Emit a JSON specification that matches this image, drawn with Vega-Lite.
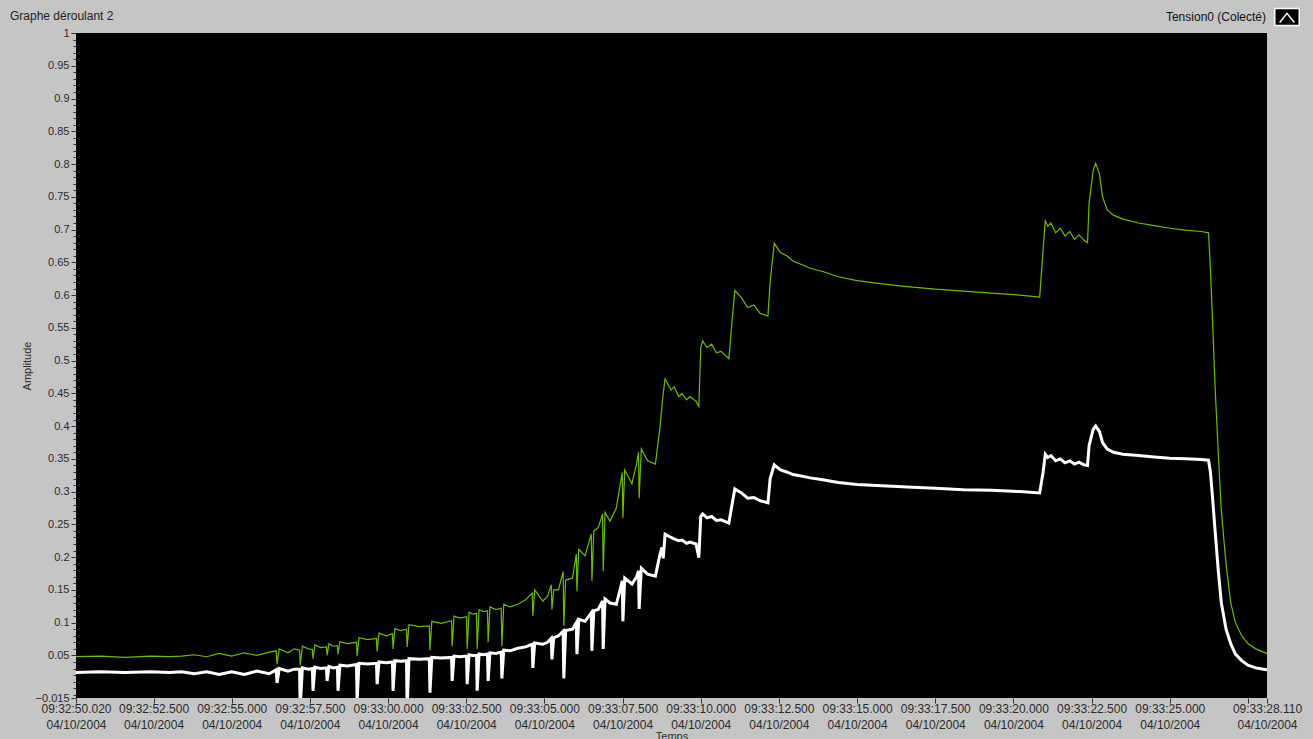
{
  "$schema": "https://vega.github.io/schema/vega-lite/v6.json",
  "width": 1191,
  "height": 665,
  "autosize": {"type": "none"},
  "padding": {"left": 76, "top": 33, "right": 46, "bottom": 41},
  "background": "#c5c5c5",
  "title": {"text": "Graphe déroulant 2", "anchor": "start", "frame": "group", "dx": -66, "dy": 33, "offset": 12, "fontSize": 12, "fontWeight": "normal", "color": "#222222", "font": "Liberation Sans"},
  "config": {"view": {"fill": "#000000", "stroke": null}, "font": "Liberation Sans"},
  "data": {
    "format": {"parse": {"t": "utc:'%Y-%m-%dT%H:%M:%S.%L'"}},
    "values": [
      {"t": "2004-10-04T09:32:50.020", "w": 0.024, "g": 0.048},
      {"t": "2004-10-04T09:32:50.800", "w": 0.025, "g": 0.049},
      {"t": "2004-10-04T09:32:51.600", "w": 0.024, "g": 0.047},
      {"t": "2004-10-04T09:32:52.400", "w": 0.025, "g": 0.049},
      {"t": "2004-10-04T09:32:53.000", "w": 0.024, "g": 0.048},
      {"t": "2004-10-04T09:32:53.400", "w": 0.025, "g": 0.049},
      {"t": "2004-10-04T09:32:53.800", "w": 0.022, "g": 0.051},
      {"t": "2004-10-04T09:32:54.200", "w": 0.025, "g": 0.048},
      {"t": "2004-10-04T09:32:54.600", "w": 0.021, "g": 0.053},
      {"t": "2004-10-04T09:32:55.000", "w": 0.025, "g": 0.049},
      {"t": "2004-10-04T09:32:55.400", "w": 0.021, "g": 0.054},
      {"t": "2004-10-04T09:32:55.800", "w": 0.026, "g": 0.050},
      {"t": "2004-10-04T09:32:56.200", "w": 0.022, "g": 0.055},
      {"t": "2004-10-04T09:32:56.420", "w": 0.028, "g": 0.057},
      {"t": "2004-10-04T09:32:56.450", "w": 0.008, "g": 0.037},
      {"t": "2004-10-04T09:32:56.520", "w": 0.030, "g": 0.060},
      {"t": "2004-10-04T09:32:56.800", "w": 0.026, "g": 0.054},
      {"t": "2004-10-04T09:32:57.000", "w": 0.029, "g": 0.060},
      {"t": "2004-10-04T09:32:57.170", "w": 0.029, "g": 0.058},
      {"t": "2004-10-04T09:32:57.190", "w": -0.030, "g": 0.035},
      {"t": "2004-10-04T09:32:57.260", "w": 0.031, "g": 0.064},
      {"t": "2004-10-04T09:32:57.450", "w": 0.029, "g": 0.060},
      {"t": "2004-10-04T09:32:57.580", "w": 0.030, "g": 0.059},
      {"t": "2004-10-04T09:32:57.600", "w": -0.004, "g": 0.045},
      {"t": "2004-10-04T09:32:57.660", "w": 0.032, "g": 0.066},
      {"t": "2004-10-04T09:32:57.850", "w": 0.030, "g": 0.062},
      {"t": "2004-10-04T09:32:58.030", "w": 0.031, "g": 0.063},
      {"t": "2004-10-04T09:32:58.050", "w": 0.011, "g": 0.050},
      {"t": "2004-10-04T09:32:58.110", "w": 0.033, "g": 0.068},
      {"t": "2004-10-04T09:32:58.250", "w": 0.031, "g": 0.064},
      {"t": "2004-10-04T09:32:58.380", "w": 0.032, "g": 0.065},
      {"t": "2004-10-04T09:32:58.400", "w": -0.004, "g": 0.052},
      {"t": "2004-10-04T09:32:58.460", "w": 0.035, "g": 0.071},
      {"t": "2004-10-04T09:32:58.700", "w": 0.034, "g": 0.068},
      {"t": "2004-10-04T09:32:58.990", "w": 0.036, "g": 0.070},
      {"t": "2004-10-04T09:32:59.010", "w": -0.020, "g": 0.049},
      {"t": "2004-10-04T09:32:59.070", "w": 0.038, "g": 0.077},
      {"t": "2004-10-04T09:32:59.350", "w": 0.037, "g": 0.074},
      {"t": "2004-10-04T09:32:59.630", "w": 0.038, "g": 0.076},
      {"t": "2004-10-04T09:32:59.650", "w": 0.006, "g": 0.056},
      {"t": "2004-10-04T09:32:59.710", "w": 0.040, "g": 0.084},
      {"t": "2004-10-04T09:32:59.950", "w": 0.039, "g": 0.080},
      {"t": "2004-10-04T09:33:00.140", "w": 0.040, "g": 0.083},
      {"t": "2004-10-04T09:33:00.160", "w": -0.004, "g": 0.060},
      {"t": "2004-10-04T09:33:00.220", "w": 0.042, "g": 0.091},
      {"t": "2004-10-04T09:33:00.400", "w": 0.041, "g": 0.088},
      {"t": "2004-10-04T09:33:00.590", "w": 0.042, "g": 0.090},
      {"t": "2004-10-04T09:33:00.610", "w": -0.030, "g": 0.063},
      {"t": "2004-10-04T09:33:00.670", "w": 0.045, "g": 0.097},
      {"t": "2004-10-04T09:33:01.000", "w": 0.044, "g": 0.094},
      {"t": "2004-10-04T09:33:01.320", "w": 0.045, "g": 0.095},
      {"t": "2004-10-04T09:33:01.340", "w": -0.007, "g": 0.058},
      {"t": "2004-10-04T09:33:01.400", "w": 0.047, "g": 0.102},
      {"t": "2004-10-04T09:33:01.700", "w": 0.046, "g": 0.099},
      {"t": "2004-10-04T09:33:02.030", "w": 0.047, "g": 0.103},
      {"t": "2004-10-04T09:33:02.050", "w": 0.011, "g": 0.064},
      {"t": "2004-10-04T09:33:02.110", "w": 0.049, "g": 0.110},
      {"t": "2004-10-04T09:33:02.300", "w": 0.048, "g": 0.107},
      {"t": "2004-10-04T09:33:02.510", "w": 0.049, "g": 0.109},
      {"t": "2004-10-04T09:33:02.530", "w": 0.006, "g": 0.060},
      {"t": "2004-10-04T09:33:02.590", "w": 0.051, "g": 0.116},
      {"t": "2004-10-04T09:33:02.700", "w": 0.050, "g": 0.113},
      {"t": "2004-10-04T09:33:02.830", "w": 0.050, "g": 0.114},
      {"t": "2004-10-04T09:33:02.850", "w": -0.004, "g": 0.060},
      {"t": "2004-10-04T09:33:02.910", "w": 0.052, "g": 0.120},
      {"t": "2004-10-04T09:33:03.050", "w": 0.051, "g": 0.117},
      {"t": "2004-10-04T09:33:03.180", "w": 0.052, "g": 0.118},
      {"t": "2004-10-04T09:33:03.200", "w": 0.011, "g": 0.070},
      {"t": "2004-10-04T09:33:03.260", "w": 0.054, "g": 0.124},
      {"t": "2004-10-04T09:33:03.450", "w": 0.053, "g": 0.120},
      {"t": "2004-10-04T09:33:03.620", "w": 0.055, "g": 0.122},
      {"t": "2004-10-04T09:33:03.640", "w": 0.015, "g": 0.064},
      {"t": "2004-10-04T09:33:03.700", "w": 0.058, "g": 0.128},
      {"t": "2004-10-04T09:33:03.900", "w": 0.057, "g": 0.124},
      {"t": "2004-10-04T09:33:04.150", "w": 0.061, "g": 0.128},
      {"t": "2004-10-04T09:33:04.400", "w": 0.063, "g": 0.135},
      {"t": "2004-10-04T09:33:04.610", "w": 0.067, "g": 0.145},
      {"t": "2004-10-04T09:33:04.630", "w": 0.031, "g": 0.110},
      {"t": "2004-10-04T09:33:04.690", "w": 0.069, "g": 0.150},
      {"t": "2004-10-04T09:33:04.950", "w": 0.067, "g": 0.133},
      {"t": "2004-10-04T09:33:05.100", "w": 0.070, "g": 0.140},
      {"t": "2004-10-04T09:33:05.220", "w": 0.076, "g": 0.158},
      {"t": "2004-10-04T09:33:05.240", "w": 0.044, "g": 0.120},
      {"t": "2004-10-04T09:33:05.300", "w": 0.077, "g": 0.150},
      {"t": "2004-10-04T09:33:05.450", "w": 0.080, "g": 0.150},
      {"t": "2004-10-04T09:33:05.600", "w": 0.087, "g": 0.178},
      {"t": "2004-10-04T09:33:05.620", "w": 0.015, "g": 0.095},
      {"t": "2004-10-04T09:33:05.680", "w": 0.088, "g": 0.165},
      {"t": "2004-10-04T09:33:05.900", "w": 0.090, "g": 0.168},
      {"t": "2004-10-04T09:33:06.020", "w": 0.100, "g": 0.205},
      {"t": "2004-10-04T09:33:06.040", "w": 0.052, "g": 0.148},
      {"t": "2004-10-04T09:33:06.100", "w": 0.105, "g": 0.212},
      {"t": "2004-10-04T09:33:06.300", "w": 0.102, "g": 0.202},
      {"t": "2004-10-04T09:33:06.500", "w": 0.115, "g": 0.235},
      {"t": "2004-10-04T09:33:06.520", "w": 0.057, "g": 0.164},
      {"t": "2004-10-04T09:33:06.580", "w": 0.118, "g": 0.240},
      {"t": "2004-10-04T09:33:06.720", "w": 0.120, "g": 0.245},
      {"t": "2004-10-04T09:33:06.860", "w": 0.133, "g": 0.266},
      {"t": "2004-10-04T09:33:06.880", "w": 0.060, "g": 0.179},
      {"t": "2004-10-04T09:33:06.940", "w": 0.136, "g": 0.268},
      {"t": "2004-10-04T09:33:07.100", "w": 0.130, "g": 0.255},
      {"t": "2004-10-04T09:33:07.300", "w": 0.128, "g": 0.275},
      {"t": "2004-10-04T09:33:07.420", "w": 0.150, "g": 0.310},
      {"t": "2004-10-04T09:33:07.490", "w": 0.164, "g": 0.329},
      {"t": "2004-10-04T09:33:07.510", "w": 0.102, "g": 0.260},
      {"t": "2004-10-04T09:33:07.570", "w": 0.168, "g": 0.333},
      {"t": "2004-10-04T09:33:07.800", "w": 0.159, "g": 0.312},
      {"t": "2004-10-04T09:33:07.950", "w": 0.170, "g": 0.343},
      {"t": "2004-10-04T09:33:08.010", "w": 0.179, "g": 0.360},
      {"t": "2004-10-04T09:33:08.030", "w": 0.121, "g": 0.290},
      {"t": "2004-10-04T09:33:08.100", "w": 0.183, "g": 0.365},
      {"t": "2004-10-04T09:33:08.300", "w": 0.174, "g": 0.347},
      {"t": "2004-10-04T09:33:08.550", "w": 0.171, "g": 0.342},
      {"t": "2004-10-04T09:33:08.700", "w": 0.205, "g": 0.400},
      {"t": "2004-10-04T09:33:08.760", "w": 0.215, "g": 0.430},
      {"t": "2004-10-04T09:33:08.800", "w": 0.198, "g": 0.450},
      {"t": "2004-10-04T09:33:08.860", "w": 0.235, "g": 0.472},
      {"t": "2004-10-04T09:33:09.050", "w": 0.230, "g": 0.455},
      {"t": "2004-10-04T09:33:09.150", "w": 0.228, "g": 0.460},
      {"t": "2004-10-04T09:33:09.300", "w": 0.225, "g": 0.445},
      {"t": "2004-10-04T09:33:09.400", "w": 0.226, "g": 0.450},
      {"t": "2004-10-04T09:33:09.550", "w": 0.221, "g": 0.440},
      {"t": "2004-10-04T09:33:09.650", "w": 0.223, "g": 0.445},
      {"t": "2004-10-04T09:33:09.850", "w": 0.220, "g": 0.438},
      {"t": "2004-10-04T09:33:09.940", "w": 0.199, "g": 0.430},
      {"t": "2004-10-04T09:33:10.000", "w": 0.262, "g": 0.520},
      {"t": "2004-10-04T09:33:10.060", "w": 0.266, "g": 0.530},
      {"t": "2004-10-04T09:33:10.200", "w": 0.260, "g": 0.520},
      {"t": "2004-10-04T09:33:10.350", "w": 0.262, "g": 0.525},
      {"t": "2004-10-04T09:33:10.500", "w": 0.256, "g": 0.512},
      {"t": "2004-10-04T09:33:10.650", "w": 0.257, "g": 0.514},
      {"t": "2004-10-04T09:33:10.900", "w": 0.252, "g": 0.503},
      {"t": "2004-10-04T09:33:11.000", "w": 0.280, "g": 0.560},
      {"t": "2004-10-04T09:33:11.090", "w": 0.304, "g": 0.607},
      {"t": "2004-10-04T09:33:11.300", "w": 0.298, "g": 0.596},
      {"t": "2004-10-04T09:33:11.500", "w": 0.290, "g": 0.581},
      {"t": "2004-10-04T09:33:11.700", "w": 0.291, "g": 0.585},
      {"t": "2004-10-04T09:33:11.900", "w": 0.286, "g": 0.572},
      {"t": "2004-10-04T09:33:12.150", "w": 0.283, "g": 0.568},
      {"t": "2004-10-04T09:33:12.220", "w": 0.320, "g": 0.620},
      {"t": "2004-10-04T09:33:12.350", "w": 0.341, "g": 0.679},
      {"t": "2004-10-04T09:33:12.550", "w": 0.333, "g": 0.665},
      {"t": "2004-10-04T09:33:12.750", "w": 0.330, "g": 0.660},
      {"t": "2004-10-04T09:33:12.950", "w": 0.326, "g": 0.652},
      {"t": "2004-10-04T09:33:13.200", "w": 0.324, "g": 0.647},
      {"t": "2004-10-04T09:33:13.500", "w": 0.321, "g": 0.641},
      {"t": "2004-10-04T09:33:13.900", "w": 0.318, "g": 0.636},
      {"t": "2004-10-04T09:33:14.400", "w": 0.314, "g": 0.628},
      {"t": "2004-10-04T09:33:15.000", "w": 0.311, "g": 0.622},
      {"t": "2004-10-04T09:33:15.800", "w": 0.309, "g": 0.617},
      {"t": "2004-10-04T09:33:16.600", "w": 0.307, "g": 0.613},
      {"t": "2004-10-04T09:33:17.500", "w": 0.305, "g": 0.609},
      {"t": "2004-10-04T09:33:18.400", "w": 0.303, "g": 0.606},
      {"t": "2004-10-04T09:33:19.300", "w": 0.302, "g": 0.603},
      {"t": "2004-10-04T09:33:20.200", "w": 0.300, "g": 0.600},
      {"t": "2004-10-04T09:33:20.840", "w": 0.298, "g": 0.597},
      {"t": "2004-10-04T09:33:20.950", "w": 0.330, "g": 0.670},
      {"t": "2004-10-04T09:33:21.020", "w": 0.357, "g": 0.713},
      {"t": "2004-10-04T09:33:21.100", "w": 0.352, "g": 0.705},
      {"t": "2004-10-04T09:33:21.200", "w": 0.355, "g": 0.710},
      {"t": "2004-10-04T09:33:21.350", "w": 0.347, "g": 0.695},
      {"t": "2004-10-04T09:33:21.500", "w": 0.350, "g": 0.702},
      {"t": "2004-10-04T09:33:21.650", "w": 0.344, "g": 0.690},
      {"t": "2004-10-04T09:33:21.800", "w": 0.347, "g": 0.697},
      {"t": "2004-10-04T09:33:21.950", "w": 0.342, "g": 0.685},
      {"t": "2004-10-04T09:33:22.100", "w": 0.345, "g": 0.692},
      {"t": "2004-10-04T09:33:22.250", "w": 0.341, "g": 0.684},
      {"t": "2004-10-04T09:33:22.370", "w": 0.340, "g": 0.680},
      {"t": "2004-10-04T09:33:22.420", "w": 0.370, "g": 0.740},
      {"t": "2004-10-04T09:33:22.550", "w": 0.395, "g": 0.790},
      {"t": "2004-10-04T09:33:22.630", "w": 0.400, "g": 0.801},
      {"t": "2004-10-04T09:33:22.750", "w": 0.392, "g": 0.785},
      {"t": "2004-10-04T09:33:22.850", "w": 0.375, "g": 0.750},
      {"t": "2004-10-04T09:33:23.000", "w": 0.365, "g": 0.730},
      {"t": "2004-10-04T09:33:23.200", "w": 0.360, "g": 0.722},
      {"t": "2004-10-04T09:33:23.500", "w": 0.357, "g": 0.716},
      {"t": "2004-10-04T09:33:24.000", "w": 0.355, "g": 0.710},
      {"t": "2004-10-04T09:33:24.500", "w": 0.353, "g": 0.706},
      {"t": "2004-10-04T09:33:25.000", "w": 0.351, "g": 0.702},
      {"t": "2004-10-04T09:33:25.500", "w": 0.350, "g": 0.699},
      {"t": "2004-10-04T09:33:26.000", "w": 0.349, "g": 0.697},
      {"t": "2004-10-04T09:33:26.240", "w": 0.348, "g": 0.695},
      {"t": "2004-10-04T09:33:26.300", "w": 0.330, "g": 0.640},
      {"t": "2004-10-04T09:33:26.370", "w": 0.290, "g": 0.560},
      {"t": "2004-10-04T09:33:26.450", "w": 0.240, "g": 0.460},
      {"t": "2004-10-04T09:33:26.550", "w": 0.180, "g": 0.360},
      {"t": "2004-10-04T09:33:26.650", "w": 0.130, "g": 0.270},
      {"t": "2004-10-04T09:33:26.800", "w": 0.090, "g": 0.190},
      {"t": "2004-10-04T09:33:26.950", "w": 0.068, "g": 0.130},
      {"t": "2004-10-04T09:33:27.100", "w": 0.052, "g": 0.100},
      {"t": "2004-10-04T09:33:27.300", "w": 0.042, "g": 0.080},
      {"t": "2004-10-04T09:33:27.500", "w": 0.035, "g": 0.068},
      {"t": "2004-10-04T09:33:27.750", "w": 0.031, "g": 0.060},
      {"t": "2004-10-04T09:33:28.000", "w": 0.029, "g": 0.055},
      {"t": "2004-10-04T09:33:28.110", "w": 0.028, "g": 0.053}
    ]
  },
  "encoding": {
    "x": {
      "field": "t",
      "type": "temporal",
      "scale": {"type": "utc", "domain": [
        {"year": 2004, "month": 10, "date": 4, "hours": 9, "minutes": 32, "seconds": 50, "milliseconds": 20, "utc": true},
        {"year": 2004, "month": 10, "date": 4, "hours": 9, "minutes": 33, "seconds": 28, "milliseconds": 110, "utc": true}
      ]},
      "axis": {
        "values": [
          {"year": 2004, "month": 10, "date": 4, "hours": 9, "minutes": 32, "seconds": 50, "milliseconds": 20, "utc": true},
          {"year": 2004, "month": 10, "date": 4, "hours": 9, "minutes": 32, "seconds": 52, "milliseconds": 500, "utc": true},
          {"year": 2004, "month": 10, "date": 4, "hours": 9, "minutes": 32, "seconds": 55, "milliseconds": 0, "utc": true},
          {"year": 2004, "month": 10, "date": 4, "hours": 9, "minutes": 32, "seconds": 57, "milliseconds": 500, "utc": true},
          {"year": 2004, "month": 10, "date": 4, "hours": 9, "minutes": 33, "seconds": 0, "milliseconds": 0, "utc": true},
          {"year": 2004, "month": 10, "date": 4, "hours": 9, "minutes": 33, "seconds": 2, "milliseconds": 500, "utc": true},
          {"year": 2004, "month": 10, "date": 4, "hours": 9, "minutes": 33, "seconds": 5, "milliseconds": 0, "utc": true},
          {"year": 2004, "month": 10, "date": 4, "hours": 9, "minutes": 33, "seconds": 7, "milliseconds": 500, "utc": true},
          {"year": 2004, "month": 10, "date": 4, "hours": 9, "minutes": 33, "seconds": 10, "milliseconds": 0, "utc": true},
          {"year": 2004, "month": 10, "date": 4, "hours": 9, "minutes": 33, "seconds": 12, "milliseconds": 500, "utc": true},
          {"year": 2004, "month": 10, "date": 4, "hours": 9, "minutes": 33, "seconds": 15, "milliseconds": 0, "utc": true},
          {"year": 2004, "month": 10, "date": 4, "hours": 9, "minutes": 33, "seconds": 17, "milliseconds": 500, "utc": true},
          {"year": 2004, "month": 10, "date": 4, "hours": 9, "minutes": 33, "seconds": 20, "milliseconds": 0, "utc": true},
          {"year": 2004, "month": 10, "date": 4, "hours": 9, "minutes": 33, "seconds": 22, "milliseconds": 500, "utc": true},
          {"year": 2004, "month": 10, "date": 4, "hours": 9, "minutes": 33, "seconds": 25, "milliseconds": 0, "utc": true},
          {"year": 2004, "month": 10, "date": 4, "hours": 9, "minutes": 33, "seconds": 27, "milliseconds": 500, "utc": true},
          {"year": 2004, "month": 10, "date": 4, "hours": 9, "minutes": 33, "seconds": 28, "milliseconds": 110, "utc": true}
        ],
        "labelExpr": "utcseconds(datum.value) == 27 && utcmilliseconds(datum.value) == 500 ? '' : [utcFormat(datum.value, '%H:%M:%S.%L'), utcFormat(datum.value, '%d/%m/%Y')]",
        "title": "Temps",
        "grid": false,
        "domain": false,
        "tickSize": 5,
        "tickColor": "#333333",
        "labelFontSize": 12,
        "labelColor": "#2b2b2b",
        "labelPadding": 0,
        "labelLineHeight": 16,
        "labelOverlap": false,
        "labelFlush": false,
        "labelBound": false,
        "titleFontSize": 11,
        "titleFontWeight": "normal",
        "titleColor": "#2b2b2b",
        "titlePadding": 0
      }
    }
  },
  "layer": [
    {
      "mark": {"type": "line", "color": "#6cbd00", "strokeWidth": 1.2, "clip": true},
      "encoding": {
        "y": {
          "field": "g",
          "type": "quantitative",
          "scale": {"domain": [-0.015, 1], "nice": false, "zero": false},
          "axis": {
            "orient": "left",
            "values": [-0.01, 0, 0.01, 0.02, 0.03, 0.04, 0.05, 0.06, 0.07, 0.08, 0.09, 0.1, 0.11, 0.12, 0.13, 0.14, 0.15, 0.16, 0.17, 0.18, 0.19, 0.2, 0.21, 0.22, 0.23, 0.24, 0.25, 0.26, 0.27, 0.28, 0.29, 0.3, 0.31, 0.32, 0.33, 0.34, 0.35, 0.36, 0.37, 0.38, 0.39, 0.4, 0.41, 0.42, 0.43, 0.44, 0.45, 0.46, 0.47, 0.48, 0.49, 0.5, 0.51, 0.52, 0.53, 0.54, 0.55, 0.56, 0.57, 0.58, 0.59, 0.6, 0.61, 0.62, 0.63, 0.64, 0.65, 0.66, 0.67, 0.68, 0.69, 0.7, 0.71, 0.72, 0.73, 0.74, 0.75, 0.76, 0.77, 0.78, 0.79, 0.8, 0.81, 0.82, 0.83, 0.84, 0.85, 0.86, 0.87, 0.88, 0.89, 0.9, 0.91, 0.92, 0.93, 0.94, 0.95, 0.96, 0.97, 0.98, 0.99, 1],
            "labels": false,
            "title": null,
            "tickSize": 3,
            "tickColor": "#333333",
            "domain": false,
            "grid": false
          }
        }
      }
    },
    {
      "mark": {"type": "line", "strokeWidth": 3, "clip": true},
      "encoding": {
        "y": {
          "field": "w",
          "type": "quantitative",
          "scale": {"domain": [-0.015, 1], "nice": false, "zero": false},
          "axis": {
            "orient": "left",
            "values": [-0.015, 0.05, 0.1, 0.15, 0.2, 0.25, 0.3, 0.35, 0.4, 0.45, 0.5, 0.55, 0.6, 0.65, 0.7, 0.75, 0.8, 0.85, 0.9, 0.95, 1],
            "format": "~g",
            "title": "Amplitude",
            "grid": false,
            "domain": false,
            "tickSize": 5,
            "tickColor": "#333333",
            "labelFontSize": 11,
            "labelColor": "#2b2b2b",
            "labelPadding": 2,
            "titleFontSize": 11,
            "titleFontWeight": "normal",
            "titleColor": "#2b2b2b",
            "titlePadding": 3
          }
        },
        "color": {
          "datum": "Tension0 (Colecté)",
          "scale": {"range": ["#ffffff"]},
          "legend": {
            "orient": "none",
            "legendX": 1196,
            "legendY": -31,
            "title": null,
            "padding": 2,
            "labelFontSize": 12,
            "labelColor": "#111111",
            "labelAlign": "right",
            "labelOffset": -34,
            "symbolType": "M-1,-0.7H1V0.7H-1Z M-0.6,0.45L0,-0.3L0.6,0.45",
            "symbolFillColor": "#000000",
            "symbolStrokeColor": "#ffffff",
            "symbolSize": 600,
            "symbolStrokeWidth": 1.5
          }
        }
      }
    }
  ],
  "resolve": {"axis": {"y": "independent"}}
}
